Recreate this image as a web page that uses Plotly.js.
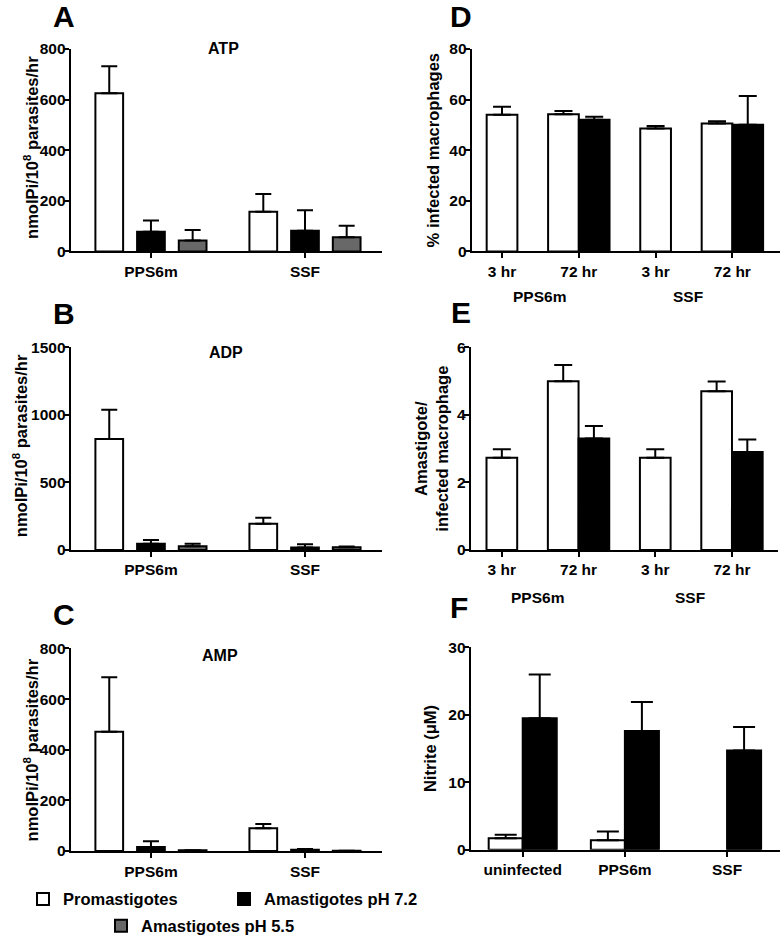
<!DOCTYPE html>
<html><head><meta charset="utf-8">
<script src="https://cdn.plot.ly/plotly-3.0.1.min.js"></script>
<style>html,body{margin:0;padding:0;background:#fff}#chart{width:784px;height:944px}</style>
</head><body><div id="chart"></div>
<script>
// ---------- data ----------
const parasiteGroups = ['PPS6m', 'SSF'];
// A: ATP
const atpProm = [625, 157], atpPromErr = [107, 70];
const atpAma72 = [78, 82], atpAma72Err = [44, 81];
const atpAma55 = [43, 56], atpAma55Err = [42, 45];
// B: ADP
const adpProm = [821, 193], adpPromErr = [218, 45];
const adpAma72 = [46, 17], adpAma72Err = [27, 25];
const adpAma55 = [27, 20], adpAma55Err = [19, 5];
// C: AMP
const ampProm = [471, 90], ampPromErr = [215, 16];
const ampAma72 = [16, 5], ampAma72Err = [22, 3];
const ampAma55 = [3, 1], ampAma55Err = [0, 0];
// D: % infected macrophages
const timeLabels = ['3 hr', '72 hr', '3 hr', '72 hr'];
const timeGroups = ['PPS6m', 'SSF'];
const infProm = [54, 54.2, 48.6, 50.5], infPromErr = [3.2, 1.3, 1.0, 0.9];
const infAma = [null, 52, null, 50], infAmaErr = [0, 1.2, 0, 11.4];
// E: amastigotes / infected macrophage
const amaProm = [2.73, 5.0, 2.73, 4.7], amaPromErr = [0.25, 0.48, 0.25, 0.29];
const amaAma = [null, 3.3, null, 2.9], amaAmaErr = [0, 0.37, 0, 0.37];
// F: nitrite
const nitriteCats = ['uninfected', 'PPS6m', 'SSF'];
const nitProm = [1.7, 1.4, null], nitPromErr = [0.5, 1.3, 0];
const nitAma = [19.5, 17.6, 14.7], nitAmaErr = [6.5, 4.3, 3.5];

const seriesNames = ['Promastigotes', 'Amastigotes pH 7.2', 'Amastigotes pH 5.5'];

// ---------- styling ----------
const W = 784, H = 944;
const px = x => x / W, py = y => 1 - y / H;
const FONT = 'Liberation Sans, Arial, Helvetica, sans-serif';
const font = (s) => ({family: FONT, size: s, color: '#000', weight: 'bold'});
const COL = ['#ffffff', '#000000', '#686868'];

function bar(xa, ya, x, y, err, ci, capw, extra) {
  return Object.assign({
    type: 'bar', x: x, y: y, xaxis: xa, yaxis: ya, name: seriesNames[ci],
    marker: {color: COL[ci], line: {color: '#000', width: 2}},
    error_y: {type: 'data', symmetric: false, array: err, arrayminus: err.map(() => 0),
              color: '#000', thickness: 2, width: capw},
    showlegend: false, hoverinfo: 'skip'
  }, extra || {});
}

const idx4 = timeLabels.map((_, i) => i);
const idx3 = nitriteCats.map((_, i) => i);
const wDE = 0.4, wF = 0.333;

const data = [
  bar('x', 'y', parasiteGroups, atpProm, atpPromErr, 0, 8, {showlegend: true, legend: 'legend'}),
  bar('x', 'y', parasiteGroups, atpAma72, atpAma72Err, 1, 8, {showlegend: true, legend: 'legend'}),
  bar('x', 'y', parasiteGroups, atpAma55, atpAma55Err, 2, 8, {showlegend: true, legend: 'legend2'}),
  bar('x2', 'y2', parasiteGroups, adpProm, adpPromErr, 0, 8),
  bar('x2', 'y2', parasiteGroups, adpAma72, adpAma72Err, 1, 8),
  bar('x2', 'y2', parasiteGroups, adpAma55, adpAma55Err, 2, 8),
  bar('x3', 'y3', parasiteGroups, ampProm, ampPromErr, 0, 8),
  bar('x3', 'y3', parasiteGroups, ampAma72, ampAma72Err, 1, 8),
  bar('x3', 'y3', parasiteGroups, ampAma55, ampAma55Err, 2, 8),
  bar('x4', 'y4', idx4, infProm, infPromErr, 0, 9,
      {width: wDE, offset: infAma.map(v => v == null ? -wDE / 2 : -wDE)}),
  bar('x4', 'y4', idx4, infAma, infAmaErr, 1, 9, {width: wDE, offset: 0}),
  bar('x5', 'y5', idx4, amaProm, amaPromErr, 0, 9,
      {width: wDE, offset: amaAma.map(v => v == null ? -wDE / 2 : -wDE)}),
  bar('x5', 'y5', idx4, amaAma, amaAmaErr, 1, 9, {width: wDE, offset: 0}),
  bar('x6', 'y6', idx3, nitProm, nitPromErr, 0, 11, {width: wF, offset: -wF}),
  bar('x6', 'y6', idx3, nitAma, nitAmaErr, 1, 11, {width: wF, offset: 0})
];

const axBase = {
  showline: true, linewidth: 2, linecolor: '#000', ticks: 'outside', ticklen: 5,
  tickwidth: 2, tickcolor: '#000', tickfont: font(15.5), showgrid: false, zeroline: false,
  fixedrange: true
};
function xax(l, r, anchor, extra) { return Object.assign({}, axBase, {domain: [px(l), px(r)], anchor: anchor}, extra); }
function yax(b, t, anchor, range, dtick, title, standoff) {
  const o = Object.assign({}, axBase, {domain: [py(b), py(t)], anchor: anchor, range: range, dtick: dtick,
    ticklabelstandoff: -5});
  if (title) o.title = {text: title, font: font(16.5), standoff: standoff};
  return o;
}
const yTitleABC = 'nmolPi/10<sup>8</sup> parasites/hr';

const layout = {
  width: W, height: H, margin: {l: 0, r: 0, t: 0, b: 0},
  paper_bgcolor: '#fff', plot_bgcolor: '#fff',
  barmode: 'group', bargap: 0.188, bargroupgap: 0.335,
  font: font(15),
  xaxis: xax(70.7, 381.7, 'y', {type: 'category', range: [-0.521, 1.498]}),
  yaxis: yax(253.3, 49.3, 'x', [0, 800], 200),
  xaxis2: xax(70.7, 381.7, 'y2', {type: 'category', range: [-0.521, 1.498]}),
  yaxis2: yax(554, 350, 'x2', [0, 1500], 500),
  xaxis3: xax(70.7, 381.7, 'y3', {type: 'category', range: [-0.521, 1.498]}),
  yaxis3: yax(857.3, 653.3, 'x3', [0, 800], 200),
  xaxis4: xax(471.7, 780, 'y4', {type: 'linear', range: [-0.395, 3.62], tickvals: idx4, ticktext: timeLabels}),
  yaxis4: yax(253.3, 49.3, 'x4', [0, 80], 20, '% infected macrophages', 6),
  xaxis5: xax(470.7, 778, 'y5', {type: 'linear', range: [-0.406, 3.6], tickvals: idx4, ticktext: timeLabels}),
  yaxis5: yax(554, 350, 'x5', [0, 6], 2, 'Amastigote/<br>infected macrophage', 4),
  xaxis6: xax(470.7, 780, 'y6', {type: 'linear', range: [-0.509, 2.518], tickvals: idx3, ticktext: nitriteCats}),
  yaxis6: yax(856, 652.3, 'x6', [0, 30], 10, 'Nitrite (μM)', 8),
  legend: {orientation: 'h', x: px(23), xanchor: 'left', y: py(906), yanchor: 'middle',
           font: font(16.5), entrywidth: 156, entrywidthmode: 'pixels', bgcolor: 'rgba(0,0,0,0)',
           traceorder: 'normal'},
  legend2: {orientation: 'h', x: px(101), xanchor: 'left', y: py(933), yanchor: 'middle',
            font: font(16.5), bgcolor: 'rgba(0,0,0,0)'},
  annotations: []
};

const ann = layout.annotations;
function note(text, x, y, size, angle) {
  ann.push({text: text, xref: 'paper', yref: 'paper', x: px(x), y: py(y), xanchor: 'center',
            yanchor: 'middle', showarrow: false, font: font(size), textangle: angle || 0});
}
// y-axis titles of A-C
note(yTitleABC, 31, 149, 16.5, -90);
note(yTitleABC, 19.5, 449, 16.5, -90);
note(yTitleABC, 31, 756, 16.5, -90);
// panel letters
note('A', 64, 17, 30); note('B', 64, 316, 30); note('C', 64, 619, 30);
note('D', 461, 17, 30); note('E', 461, 315, 30); note('F', 459, 612, 30);
// panel subtitles
note('ATP', 223, 49, 16); note('ADP', 226, 355, 16); note('AMP', 220, 660, 16);
// group labels under D and E
note(timeGroups[0], 539, 299, 15.5); note(timeGroups[1], 688, 299, 15.5);
note(timeGroups[0], 537, 602, 15.5); note(timeGroups[1], 690, 602, 15.5);

Plotly.newPlot('chart', data, layout, {displayModeBar: false, staticPlot: true});
</script>
</body></html>
